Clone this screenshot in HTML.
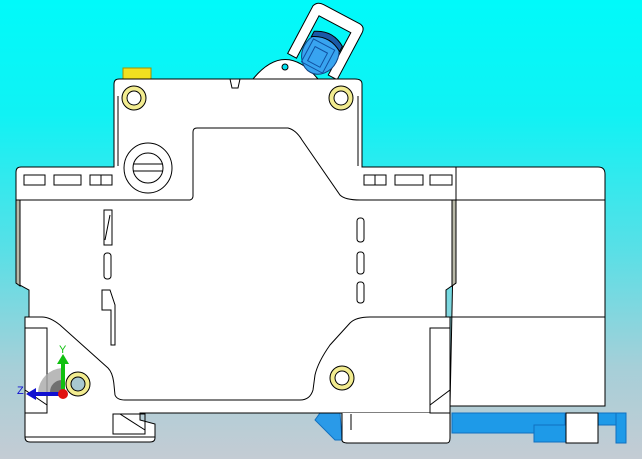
<!DOCTYPE html>
<html><head><style>
html,body{margin:0;padding:0;width:642px;height:459px;overflow:hidden}
body{background:linear-gradient(#00fafa 0%,#10f2f4 25%,#5adfe6 55%,#a6cfd8 80%,#c4ccd4 100%)}
svg{position:absolute;left:0;top:0}
</style></head><body>
<svg width="642" height="459" viewBox="0 0 642 459" xmlns="http://www.w3.org/2000/svg">
<g stroke="#000" stroke-width="1" fill="#fff">
<!-- blue bottom parts -->
<path d="M320 413 L340 413 L342 440 L335 440 L315 420 Z" fill="#2a9ae8" stroke="#1070c0"/>
<rect x="452" y="413" width="113" height="20" fill="#1e9ae8" stroke="#1070c0"/>
<rect x="534" y="425" width="32" height="17" fill="#1e9ae8" stroke="#1070c0"/>
<rect x="598" y="413" width="28" height="12" fill="#1e9ae8" stroke="#1070c0"/>
<rect x="616" y="413" width="10" height="30" fill="#1e9ae8" stroke="#1070c0"/>
<rect x="566" y="413" width="32" height="30" fill="#fff"/>
<!-- right module -->
<path d="M455 167 L598 167 Q605 167 605 174 L605 406 L450 406 Z"/>
<line x1="452" y1="200" x2="605" y2="200"/>
<line x1="450" y1="317" x2="605" y2="317"/>
<!-- yellow tab -->
<rect x="123" y="68" width="28" height="11" fill="#f0e020" stroke="#a09000"/>
<!-- dome -->
<path d="M253 79 Q285 40 318 79 Z"/>
<circle cx="285" cy="67" r="3" fill="#00e0f0"/>
<!-- toggle -->
<g transform="rotate(28 325 45)">
<path d="M296 16 Q298 10 305 10 L345 10 Q352 10 352 17 L352 70 L342 70 L342 22 L306 22 L306 70 L296 70 Z" fill="#fff"/>
<ellipse cx="325" cy="55" rx="18" ry="21" fill="#38a4f0" stroke="#104080"/>
<rect x="312" y="45" width="24" height="26" fill="none" stroke="#1050a0"/>
<rect x="317" y="51" width="14" height="16" fill="none" stroke="#1050a0"/>
<path d="M309 38 Q325 28 341 38 L341 44 Q325 34 309 44Z" fill="#1a5aa8"/>
</g>
<!-- main body outline -->
<path d="M16 172 Q16 167 21 167 L114 167 L114 84 Q114 79 119 79 L355 79 Q362 79 362 84 L362 167 L456 167 L456 283 L446 290 L446 317 L450 317 L450 413 L140 413 L140 420 L155 424 L155 438 Q155 442 150 442 L30 442 Q25 442 25 437 L25 317 L29 317 L29 290 L16 283 Z"/>
<path d="M16 200 L16 283 L20 286 L20 200 Z" fill="#b8b8a8"/>
<path d="M456 200 L456 283 L452 286 L452 200 Z" fill="#b8b8a8"/>
<!-- inner top outline -->
<path d="M118 96 L118 166" fill="none"/>
<path d="M358 96 L358 166" fill="none"/>
<path d="M16 200 L190 200 Q193 199 193 196 L193 132 Q193 128 197 128 L288 128 Q296 130 302 140 L340 195 Q345 200 360 200 L456 200" fill="none"/>
<path d="M230 79 L232 88 L238 88 L240 79" fill="none"/>
<!-- lower inner outline -->
<path d="M25 317 L42 317 Q50 317 60 325 L108 368 Q113 373 114 385 L115 395 Q117 400 125 400 L300 400 Q310 400 313 390 L315 375 Q318 362 330 345 L350 323 Q356 317 370 317 L446 317" fill="none"/>
<!-- bottom strip -->
<line x1="140" y1="413" x2="450" y2="413"/>
<path d="M342 413 L342 440 Q342 443 348 443 L447 443 Q450 443 450 438 L450 413" fill="#fff"/>
<line x1="351" y1="414" x2="351" y2="430"/>
<rect x="113" y="414" width="32" height="20" fill="none"/>
<path d="M120 414 L145 430" fill="none"/>
<line x1="25" y1="437" x2="155" y2="437"/>
<rect x="25" y="328" width="22" height="85" fill="none"/>
<rect x="430" y="328" width="20" height="85" fill="none"/>
<line x1="25" y1="390" x2="47" y2="405"/>
<line x1="430" y1="405" x2="450" y2="390"/>
<!-- strip slots -->
<rect x="24" y="175" width="21" height="10" fill="none"/>
<rect x="54" y="175" width="27" height="10" fill="none"/>
<rect x="90" y="175" width="22" height="10" fill="none"/><line x1="101" y1="175" x2="101" y2="185"/>
<rect x="364" y="175" width="22" height="10" fill="none"/><line x1="375" y1="175" x2="375" y2="185"/>
<rect x="395" y="175" width="28" height="10" fill="none"/>
<rect x="430" y="175" width="22" height="10" fill="none"/>
<!-- screw -->
<ellipse cx="148" cy="168" rx="24" ry="25"/>
<ellipse cx="148" cy="168" rx="15" ry="15" fill="none"/>
<line x1="133" y1="164" x2="163" y2="164"/><line x1="133" y1="171" x2="163" y2="171"/>
<!-- vertical slots left -->
<path d="M104 210 L112 210 L112 245 L104 245 Z M105 240 L110 215" fill="none"/>
<rect x="104" y="253" width="7" height="26" rx="3" fill="none"/>
<path d="M102 290 L110 290 L115 305 L115 345 L111 345 L111 310 L102 310 Z" fill="none"/>
<!-- vertical slots right -->
<rect x="357" y="218" width="7" height="24" rx="3" fill="none"/>
<rect x="357" y="252" width="7" height="22" rx="3" fill="none"/>
<rect x="357" y="282" width="7" height="21" rx="3" fill="none"/>
<!-- bolts -->
<g fill="#f2ec90" stroke="#000">
<circle cx="134" cy="98" r="12"/><circle cx="341" cy="98" r="12"/>
<circle cx="78" cy="384" r="12"/><circle cx="342" cy="378" r="12"/>
</g>
<circle cx="134" cy="98" r="7"/><circle cx="341" cy="98" r="7"/>
<circle cx="78" cy="384" r="7" fill="#a8c8d0"/><circle cx="342" cy="378" r="7"/>
</g>
<!-- triad -->
<path d="M38 392 A26 26 0 0 1 62 368 L62 392 Z" fill="#a8a8a8" opacity="0.8"/>
<path d="M50 392 A12 12 0 0 1 62 380 L62 392 Z" fill="#707070"/>
<rect x="61" y="362" width="4" height="30" fill="#10c010"/>
<path d="M57 364 L63 354 L69 364 Z" fill="#10c010"/>
<rect x="34" y="392" width="28" height="4" fill="#1010d0"/>
<path d="M36 388 L26 394 L36 400 Z" fill="#1010d0"/>
<circle cx="63" cy="394" r="5" fill="#e01010"/>
<text x="59" y="353" font-family="Liberation Sans, sans-serif" font-size="11" fill="#10c010">Y</text>
<text x="17" y="394" font-family="Liberation Sans, sans-serif" font-size="11" fill="#1010d0">Z</text>
</svg>
</body></html>
